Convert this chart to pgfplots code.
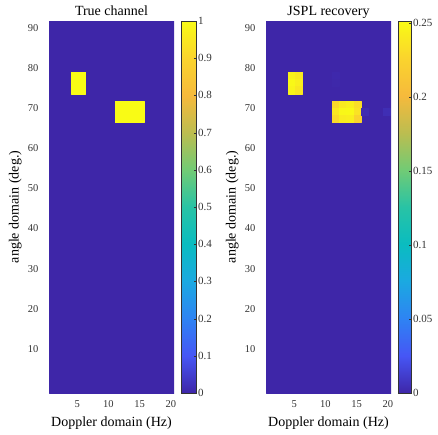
\documentclass[border=0pt]{standalone}
\usepackage{fontspec}
\setmainfont{Liberation Serif}
\usepackage{pgfplots}
\pgfplotsset{compat=1.18}
\usepgfplotslibrary{patchplots}

% parula-like colormap
\pgfplotsset{colormap={parula}{
  rgb255=(62,38,168) rgb255=(70,86,245) rgb255=(46,131,243) rgb255=(27,169,225)
  rgb255=(10,188,192) rgb255=(40,195,165) rgb255=(113,203,117) rgb255=(188,189,80)
  rgb255=(246,186,60) rgb255=(250,212,45) rgb255=(249,251,21)}}

\pgfplotsset{
  heat/.style={
    scale only axis, width=125pt, height=372pt,
    xmin=0.5, xmax=20.5, ymin=-1, ymax=91.7,
    xtick={5,10,15,20}, ytick={10,20,...,90},
    axis line style={draw=none}, tick style={draw=none},
    colormap name=parula,
    /pgf/number format/assume math mode=true,
    tick label style={font=\fontsize{10.5}{12}\selectfont, text=black!80},
    yticklabel style={xshift=-7pt},
    xticklabel style={yshift=-4pt},
    label style={font=\fontsize{14}{16}\selectfont},
    xlabel style={at={(axis description cs:0.5,-0.08)}, anchor=center},
    ylabel style={at={(axis description cs:-0.27,0.5)}, rotate=0, anchor=center},
    title style={at={(axis description cs:0.5,1)}, anchor=base, yshift=-0.5pt,
      font=\fontsize{14}{16}\selectfont},
    xlabel={Doppler domain (Hz)}, ylabel={angle domain (deg.)},
    colorbar,
  },
  cbar/.style={
    at={(parent axis.north east)}, anchor=north west, xshift=-1pt,
    axis line style={draw=black!80, line width=0.6pt},
    tick align=inside, ytick pos=right, major tick length=3pt,
    tick style={draw=black!80},
    scaled y ticks=false,
    yticklabel style={font=\fontsize{11}{12}\selectfont, text=black!80, xshift=-2pt},
  },
}

\begin{document}
\begin{tikzpicture}
\useasboundingbox (0,0) rectangle (438pt,434pt);

\begin{axis}[heat, at={(49pt,41pt)}, anchor=south west,
  title={True channel},
  point meta min=0, point meta max=1,
  colorbar style={cbar, width=15pt, ytick={0,0.1,0.2,0.3,0.4,0.5,0.6,0.7,0.8,0.9,1},
    yticklabels={0,0.1,0.2,0.3,0.4,0.5,0.6,0.7,0.8,0.9,1}}]
\addplot[patch, patch type=rectangle, shader=flat, point meta=\thisrow{c}]
  table[row sep=\\] {
  x y c \\
  0.5 -1 0 \\ 20.5 -1 0 \\ 20.5 91.7 0 \\ 0.5 91.7 0 \\
  4.13 73.58 1 \\ 6.37 73.58 1 \\ 6.37 78.92 1 \\ 4.13 78.92 1 \\
  11.06 66.36 1 \\ 15.70 66.36 1 \\ 15.70 71.69 1 \\ 11.06 71.69 1 \\
  };
\end{axis}

\begin{axis}[heat, at={(266pt,41pt)}, anchor=south west,
  title={JSPL recovery},
  point meta min=0, point meta max=0.2515,
  colorbar style={cbar, width=13pt, ytick={0,0.05,0.1,0.15,0.2,0.25},
    yticklabels={0,0.05,0.1,0.15,0.2,0.25}}]
\addplot[patch, patch type=rectangle, shader=flat, point meta=\thisrow{c}]
  table[row sep=\\] {
  x y c \\
  0.5 -1 0 \\ 20.5 -1 0 \\ 20.5 91.7 0 \\ 0.5 91.7 0 \\
  4.13 77.14 0.246 \\ 5.25 77.14 0.246 \\ 5.25 78.92 0.246 \\ 4.13 78.92 0.246 \\
  5.25 77.14 0.240 \\ 6.37 77.14 0.240 \\ 6.37 78.92 0.240 \\ 5.25 78.92 0.240 \\
  4.13 75.36 0.250 \\ 5.25 75.36 0.250 \\ 5.25 77.14 0.250 \\ 4.13 77.14 0.250 \\
  5.25 75.36 0.244 \\ 6.37 75.36 0.244 \\ 6.37 77.14 0.244 \\ 5.25 77.14 0.244 \\
  4.13 73.58 0.247 \\ 5.25 73.58 0.247 \\ 5.25 75.36 0.247 \\ 4.13 75.36 0.247 \\
  5.25 73.58 0.239 \\ 6.37 73.58 0.239 \\ 6.37 75.36 0.239 \\ 5.25 75.36 0.239 \\
  11.06 69.91 0.228 \\ 12.22 69.91 0.228 \\ 12.22 71.69 0.228 \\ 11.06 71.69 0.228 \\
  12.22 69.91 0.240 \\ 13.38 69.91 0.240 \\ 13.38 71.69 0.240 \\ 12.22 71.69 0.240 \\
  13.38 69.91 0.244 \\ 14.54 69.91 0.244 \\ 14.54 71.69 0.244 \\ 13.38 71.69 0.244 \\
  14.54 69.91 0.232 \\ 15.70 69.91 0.232 \\ 15.70 71.69 0.232 \\ 14.54 71.69 0.232 \\
  11.06 68.14 0.238 \\ 12.22 68.14 0.238 \\ 12.22 69.91 0.238 \\ 11.06 69.91 0.238 \\
  12.22 68.14 0.249 \\ 13.38 68.14 0.249 \\ 13.38 69.91 0.249 \\ 12.22 69.91 0.249 \\
  13.38 68.14 0.250 \\ 14.54 68.14 0.250 \\ 14.54 69.91 0.250 \\ 13.38 69.91 0.250 \\
  14.54 68.14 0.236 \\ 15.70 68.14 0.236 \\ 15.70 69.91 0.236 \\ 14.54 69.91 0.236 \\
  11.06 66.36 0.230 \\ 12.22 66.36 0.230 \\ 12.22 68.14 0.230 \\ 11.06 68.14 0.230 \\
  12.22 66.36 0.242 \\ 13.38 66.36 0.242 \\ 13.38 68.14 0.242 \\ 12.22 68.14 0.242 \\
  13.38 66.36 0.243 \\ 14.54 66.36 0.243 \\ 14.54 68.14 0.243 \\ 13.38 68.14 0.243 \\
  14.54 66.36 0.226 \\ 15.70 66.36 0.226 \\ 15.70 68.14 0.226 \\ 14.54 68.14 0.226 \\
  15.70 68.14 0.003 \\ 16.86 68.14 0.003 \\ 16.86 69.91 0.003 \\ 15.70 69.91 0.003 \\
  19.18 68.14 0.004 \\ 20.34 68.14 0.004 \\ 20.34 69.91 0.004 \\ 19.18 69.91 0.004 \\
  11.06 77.14 0.0012 \\ 12.22 77.14 0.0012 \\ 12.22 78.92 0.0012 \\ 11.06 78.92 0.0012 \\
  11.06 75.36 0.0008 \\ 12.22 75.36 0.0008 \\ 12.22 77.14 0.0008 \\ 11.06 77.14 0.0008 \\
  };
\end{axis}
\end{tikzpicture}
\end{document}
